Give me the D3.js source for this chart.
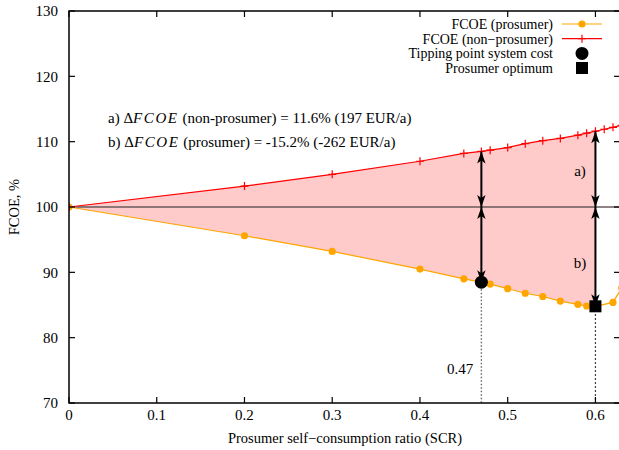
<!DOCTYPE html>
<html>
<head>
<meta charset="utf-8">
<style>
  body { margin: 0; background: #fff; }
  svg { display: block; }
  svg text { font-family: "Times New Roman", "Liberation Serif", "DejaVu Serif", serif; }
</style>
</head>
<body>
<script src="https://d3js.org/d3.v7.min.js"></script>
<script>

var width = 619,
    height = 450;
var margin = {"top": 11, "right": -1, "bottom": 47, "left": 69};

// FCOE of the non-prosumer, %
var scrNon  = [0, 0.2, 0.3, 0.4, 0.45, 0.47, 0.48, 0.5, 0.52, 0.54, 0.56, 0.58, 0.59, 0.6, 0.61, 0.62, 0.63];
var fcoeNon = [100, 103.2, 105.0, 107.0, 108.2, 108.5, 108.7, 109.1, 109.7, 110.15, 110.5, 111.0, 111.3, 111.6, 111.9, 112.2, 112.5];

// FCOE of the prosumer, %
var scrPro  = [0, 0.2, 0.3, 0.4, 0.45, 0.47, 0.48, 0.5, 0.52, 0.54, 0.56, 0.58, 0.59, 0.6, 0.62, 0.63];
var fcoePro = [100, 95.6, 93.2, 90.5, 89.0, 88.5, 88.2, 87.5, 86.8, 86.3, 85.6, 85.1, 84.85, 84.8, 85.4, 87.6];

var tipping = {"scr": 0.47, "fcoe": 88.5, "non": 108.5};
var optimum = {"scr": 0.6, "fcoe": 84.8, "non": 111.6};

var xTicks = [0, 0.1, 0.2, 0.3, 0.4, 0.5, 0.6];
var yTicks = [70, 80, 90, 100, 110, 120, 130];

var legendLabels = ["FCOE (prosumer)", "FCOE (non\u2212prosumer)", "Tipping point system cost", "Prosumer optimum"];

var orange = "#ffa500",
    red = "#ff0000",
    fillPink = "#ffcaca";

var fs = 15;

var x = d3.scaleLinear().domain([0, 0.628]).range([margin.left, width - margin.right]);
var y = d3.scaleLinear().domain([70, 130]).range([height - margin.bottom, margin.top]);

var svg = d3.select("body").append("svg")
    .attr("width", width)
    .attr("height", height);

var defs = svg.append("defs");
defs.append("clipPath").attr("id", "clip")
  .append("rect")
    .attr("x", x.range()[0]).attr("y", y.range()[1])
    .attr("width", x.range()[1] - x.range()[0])
    .attr("height", y.range()[0] - y.range()[1]);

var non = scrNon.map(function(d, i) { return [d, fcoeNon[i]]; });
var pro = scrPro.map(function(d, i) { return [d, fcoePro[i]]; });

var plot = svg.append("g").attr("clip-path", "url(#clip)");

var line = d3.line().x(function(d) { return x(d[0]); }).y(function(d) { return y(d[1]); });

// shaded gap between the two curves up to the optimum
var band = non.filter(function(d) { return d[0] <= optimum.scr; })
  .concat(pro.filter(function(d) { return d[0] <= optimum.scr; }).reverse());
plot.append("path")
    .attr("d", line(band) + "Z")
    .attr("fill", fillPink);

// reference line at 100 %
plot.append("line")
    .attr("x1", x.range()[0]).attr("x2", x.range()[1])
    .attr("y1", y(100)).attr("y2", y(100))
    .attr("stroke", "#6a5a5a").attr("stroke-width", 1.6);

plot.append("path").datum(pro).attr("d", line)
    .attr("fill", "none").attr("stroke", orange).attr("stroke-width", 1.2);
plot.append("path").datum(non).attr("d", line)
    .attr("fill", "none").attr("stroke", red).attr("stroke-width", 1.2);

plot.selectAll(".pro").data(pro).enter().append("circle")
    .attr("class", "pro")
    .attr("cx", function(d) { return x(d[0]); })
    .attr("cy", function(d) { return y(d[1]); })
    .attr("r", 3.6)
    .attr("fill", orange);

function plus(sel, size) {
  sel.append("path")
    .attr("d", "M" + (-size) + ",0H" + size + "M0," + (-size) + "V" + size)
    .attr("stroke", red).attr("stroke-width", 1.2);
}
plot.selectAll(".non").data(non).enter().append("g")
    .attr("class", "non")
    .attr("transform", function(d) { return "translate(" + x(d[0]) + "," + y(d[1]) + ")"; })
    .call(plus, 4);

// dotted drop lines
svg.append("line")
    .attr("x1", x(tipping.scr)).attr("x2", x(tipping.scr))
    .attr("y1", y(tipping.fcoe)).attr("y2", y(70))
    .attr("stroke", "#666").attr("stroke-width", 1.4).attr("stroke-dasharray", "1.5,2");
svg.append("line")
    .attr("x1", x(optimum.scr)).attr("x2", x(optimum.scr))
    .attr("y1", y(optimum.fcoe)).attr("y2", y(70))
    .attr("stroke", "#000").attr("stroke-width", 1.2).attr("stroke-dasharray", "1.5,2.5");

// double headed arrows
function head(px, py, dir) {
  var L = 12, W = 4.2, n = 3;
  return "M" + px + "," + py +
    "L" + (px - W) + "," + (py - dir * L) +
    "L" + px + "," + (py - dir * (L - n)) +
    "L" + (px + W) + "," + (py - dir * L) + "Z";
}
function arrow(sx, v1, v2) {
  var px = x(sx), a = y(v1), b = y(v2);
  var g = svg.append("g");
  g.append("line").attr("x1", px).attr("x2", px).attr("y1", a).attr("y2", b)
    .attr("stroke", "#000").attr("stroke-width", 2);
  var dir = b > a ? 1 : -1;
  g.append("path").attr("d", head(px, b, dir)).attr("fill", "#000");
  g.append("path").attr("d", head(px, a, -dir)).attr("fill", "#000");
}
arrow(tipping.scr, tipping.non, 100);
arrow(tipping.scr, 100, tipping.fcoe);
arrow(optimum.scr, optimum.non, 100);
arrow(optimum.scr, 100, optimum.fcoe);

svg.append("circle")
    .attr("cx", x(tipping.scr)).attr("cy", y(tipping.fcoe)).attr("r", 6.5).attr("fill", "#000");
svg.append("rect")
    .attr("x", x(optimum.scr) - 6).attr("y", y(optimum.fcoe) - 6)
    .attr("width", 12).attr("height", 12).attr("fill", "#000");

svg.append("text").attr("x", 580).attr("y", y(105.5)).attr("dy", "0.35em")
    .attr("text-anchor", "middle").attr("font-size", fs).text("a)");
svg.append("text").attr("x", 580).attr("y", y(91.5)).attr("dy", "0.35em")
    .attr("text-anchor", "middle").attr("font-size", fs).text("b)");
svg.append("text").attr("x", x(tipping.scr) - 8).attr("y", 369).attr("dy", "0.35em")
    .attr("text-anchor", "end").attr("font-size", fs).text("0.47");

// delta annotations
function delta(yy, pre, post) {
  var t = svg.append("text").attr("x", 108).attr("y", yy).attr("dy", "0.35em").attr("font-size", fs);
  t.append("tspan").text(pre + " \u0394");
  t.append("tspan").attr("font-style", "italic").attr("letter-spacing", 1.6).text("FCOE");
  t.append("tspan").text(" " + post);
}
delta(118, "a)", "(non-prosumer) = 11.6% (197 EUR/a)");
delta(142, "b)", "(prosumer) = -15.2% (-262 EUR/a)");

// frame and ticks
var x0 = x.range()[0], x1 = x.range()[1], y0 = y.range()[0], y1 = y.range()[1];
svg.append("rect").attr("x", x0).attr("y", y1).attr("width", x1 - x0).attr("height", y0 - y1)
    .attr("fill", "none").attr("stroke", "#000").attr("stroke-width", 1.5);

var tk = svg.append("g").attr("stroke", "#000").attr("stroke-width", 1.2);
xTicks.forEach(function(t) {
  tk.append("line").attr("x1", x(t)).attr("x2", x(t)).attr("y1", y0).attr("y2", y0 - 6);
  tk.append("line").attr("x1", x(t)).attr("x2", x(t)).attr("y1", y1).attr("y2", y1 + 6);
});
yTicks.forEach(function(t) {
  tk.append("line").attr("x1", x0).attr("x2", x0 + 6).attr("y1", y(t)).attr("y2", y(t));
  tk.append("line").attr("x1", x1).attr("x2", x1 - 6).attr("y1", y(t)).attr("y2", y(t));
});

svg.selectAll(".xl").data(xTicks).enter().append("text")
    .attr("x", function(d) { return x(d); }).attr("y", 420)
    .attr("text-anchor", "middle").attr("font-size", fs)
    .text(function(d) { return d3.format("")(d); });
svg.selectAll(".yl").data(yTicks).enter().append("text")
    .attr("x", 58).attr("y", function(d) { return y(d); }).attr("dy", "0.35em")
    .attr("text-anchor", "end").attr("font-size", fs)
    .text(function(d) { return d; });

svg.append("text").attr("x", 345).attr("y", 443)
    .attr("text-anchor", "middle").attr("font-size", 14.5)
    .text("Prosumer self\u2212consumption ratio (SCR)");
svg.append("text")
    .attr("transform", "translate(19," + y(100) + ") rotate(-90)")
    .attr("text-anchor", "middle").attr("font-size", 14.5)
    .text("FCOE, %");

// legend
var legY = [24, 38.7, 53.4, 68];
var leg = svg.append("g");
legendLabels.forEach(function(l, i) {
  leg.append("text").attr("x", 553).attr("y", legY[i]).attr("dy", "0.35em")
    .attr("text-anchor", "end").attr("font-size", 14).text(l);
});
leg.append("line").attr("x1", 562).attr("x2", 602).attr("y1", legY[0]).attr("y2", legY[0])
    .attr("stroke", orange).attr("stroke-width", 1.2);
leg.append("circle").attr("cx", 582).attr("cy", legY[0]).attr("r", 3.6).attr("fill", orange);
leg.append("line").attr("x1", 562).attr("x2", 602).attr("y1", legY[1]).attr("y2", legY[1])
    .attr("stroke", red).attr("stroke-width", 1.2);
leg.append("g").attr("transform", "translate(582," + legY[1] + ")").call(plus, 4);
leg.append("circle").attr("cx", 582).attr("cy", legY[2]).attr("r", 6.5).attr("fill", "#000");
leg.append("rect").attr("x", 576).attr("y", legY[3] - 6).attr("width", 12).attr("height", 12).attr("fill", "#000");

</script>
</body>
</html>
